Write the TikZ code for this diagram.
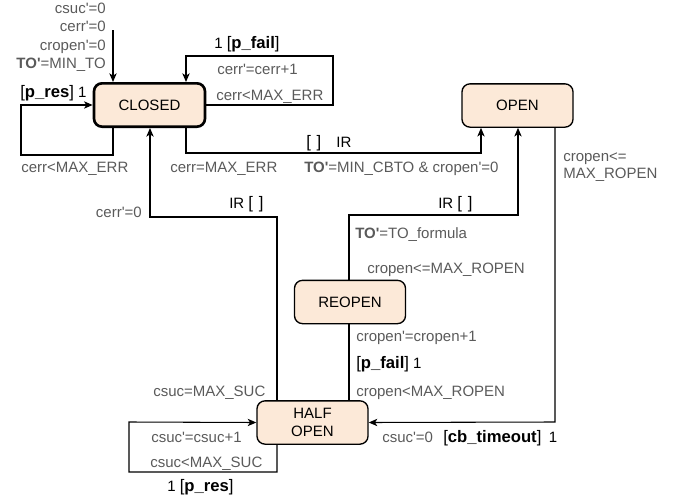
\documentclass[tikz,border=0pt]{standalone}
\usepackage{fontspec}
\setmainfont{Liberation Sans}[Ligatures=TeXOff]
\usetikzlibrary{arrows.meta}
\definecolor{statefill}{RGB}{252,233,216}
\definecolor{lblgray}{RGB}{90,90,90}
\newcommand{\emptyguard}{{\fontsize{12.5}{14}\selectfont[\hspace{0.35em}]}}
\newcommand{\guardname}[1]{{\fontsize{12.5}{14}\selectfont[\textbf{#1}]}}
\begin{document}
\begin{tikzpicture}[x=0.75pt,y=-0.75pt,
  font=\fontsize{11.25}{13}\selectfont,
  state/.style={draw, rounded corners=6pt, fill=statefill, line width=1pt,
    minimum width=83.25pt, minimum height=32.5pt, inner sep=0pt, align=center},
  conn/.style={line width=0.8pt},
  arr/.style={conn, -{Stealth[length=6.5pt,width=5.5pt,inset=1.8pt]}},
  lbl/.style={text=lblgray, inner sep=0pt, anchor=west, text height=8pt, text depth=0pt},
  act/.style={lbl, text=black}]
\useasboundingbox (0,0) rectangle (683,500);

% states
\node[state, line width=2pt] (closed) at (149.5,105) {CLOSED};
\node[state] (open) at (517.5,105.5) {OPEN};
\node[state] (reopen) at (350,302) {REOPEN};
\node[state] (half) at (312.5,422.5) {HALF\\OPEN};

% initial transition
\coordinate (init) at (113,30);
\draw[arr] (init) -- (init |- closed.north);
\node[lbl, anchor=east] (i1) at (106,8) {csuc'=0};
\node[lbl, anchor=east] (i2) at (106,26) {cerr'=0};
\node[lbl, anchor=east] (i3) at (106,45) {cropen'=0};
\node[lbl, anchor=east] (i4) at (106,63) {\textbf{TO'}=MIN\_TO};

% CLOSED self-loop on failure
\coordinate (pf1) at (333,56);
\coordinate (pf2) at (186,56);
\draw[arr] (closed.east) -| (pf1) -- (pf2) -- (pf2 |- closed.north);
\node[act] (pfa) at (214,43) {1 \guardname{p\_fail}};
\node[lbl] (pfb) at (217,69) {cerr'=cerr+1};
\node[lbl] (pfc) at (216,95) {cerr<MAX\_ERR};

% CLOSED self-loop on success
\coordinate (pr1) at (113,155);
\coordinate (pr2) at (21,105);
\draw[arr] (pr1 |- closed.south) -- (pr1) -| (pr2) -- (closed.west);
\node[act] (pra) at (20,92) {\guardname{p\_res} 1};
\node[lbl] (prb) at (21,167) {cerr<MAX\_ERR};

% CLOSED -> OPEN
\coordinate (co1) at (186,153);
\coordinate (co2) at (481,153);
\draw[arr] (co1 |- closed.south) -- (co1) -- (co2) -- (co2 |- open.south);
\node[act] (coa) at (306,142) {\emptyguard\hspace{1em}IR};
\node[lbl] (cob) at (170,167) {cerr=MAX\_ERR};
\node[lbl] (coc) at (304,167) {\textbf{TO'}=MIN\_CBTO \& cropen'=0};

% HALF OPEN -> CLOSED
\coordinate (hc1) at (277,217);
\coordinate (hc2) at (150,217);
\draw[arr] (hc1 |- half.north) -- (hc1) -- (hc2) -- (hc2 |- closed.south);
\node[act] (hca) at (229,203) {IR \emptyguard};
\node[lbl, anchor=east] (hcb) at (142,212) {cerr'=0};
\node[lbl] (hcc) at (153,391) {csuc=MAX\_SUC};

% HALF OPEN -> REOPEN -> OPEN
\coordinate (ro1) at (349,215);
\coordinate (ro2) at (518,215);
\draw[arr] (ro1 |- reopen.north) -- (ro1) -- (ro2) -- (ro2 |- open.south);
\draw[conn] (ro1 |- half.north) -- (ro1 |- reopen.south);
\node[act] (roa) at (438,203) {IR \emptyguard};
\node[lbl] (rob) at (355,233) {\textbf{TO'}=TO\_formula};
\node[lbl] (roc) at (367,268) {cropen<=MAX\_ROPEN};
\node[lbl] (rod) at (356,336) {cropen'=cropen+1};
\node[act] (roe) at (356,363) {\guardname{p\_fail} 1};
\node[lbl] (rof) at (356,391) {cropen<MAX\_ROPEN};

% OPEN -> HALF OPEN on timeout
\coordinate (oh) at (555,422);
\draw[arr] (oh |- open.south) -- (oh) -- (half.east);
\node[lbl, align=left, text height=, text depth=, anchor=north west] (oha) at (563,152) {cropen<=\\MAX\_ROPEN};
\node[lbl] (ohb) at (382,437) {csuc'=0};
\node[act] (ohc) at (443,437) {\guardname{cb\_timeout}\hspace{0.5em}1};

% HALF OPEN self-loop on success
\coordinate (hl1) at (277,472);
\coordinate (hl2) at (129,422);
\draw[arr] (hl1 |- half.south) -- (hl1) -| (hl2) -- (half.west);
\node[lbl] (hla) at (151,437) {csuc'=csuc+1};
\node[lbl] (hlb) at (150,462) {csuc<MAX\_SUC};
\node[act] (hlc) at (167,486) {1 \guardname{p\_res}};
\end{tikzpicture}
\end{document}
